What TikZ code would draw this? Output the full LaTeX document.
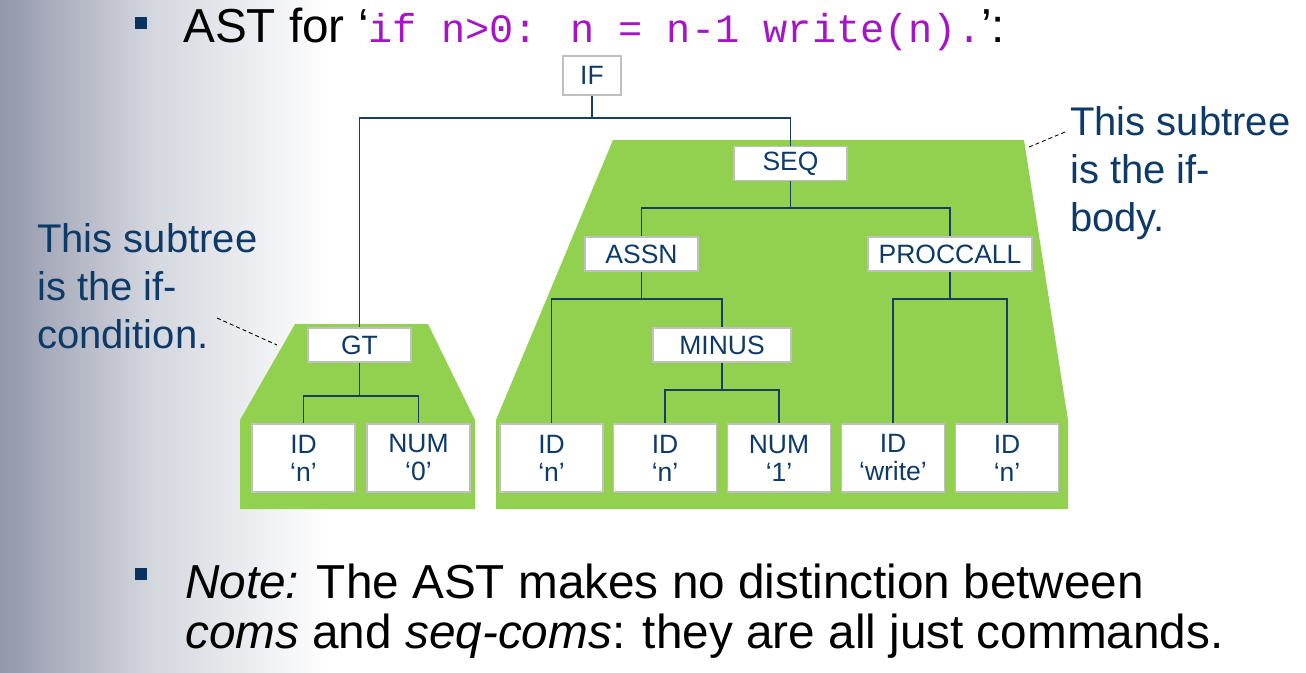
\documentclass[tikz,border=0pt]{standalone}
\usepackage{fontspec}
\setmainfont{Liberation Sans}
\newfontfamily\codefont{Liberation Mono}
\definecolor{bgL}{RGB}{146,151,170}
\definecolor{bgM}{RGB}{212,214,222}
\definecolor{navy}{RGB}{14,58,104}
\definecolor{linec}{RGB}{24,62,100}
\definecolor{bulletc}{RGB}{10,50,95}
\definecolor{leaf}{RGB}{146,208,80}
\definecolor{boxline}{RGB}{192,192,192}
\definecolor{codepurple}{RGB}{165,20,200}
\begin{document}
\begin{tikzpicture}[x=1pt,y=-1pt,
  treebox/.style={draw=boxline, line width=1.5pt, fill=white, text=navy, inner sep=0pt,
    font=\fontsize{26.5}{28}\selectfont, minimum height=34pt, align=center},
  leafbox/.style={treebox, minimum width=103pt, minimum height=68pt},
  conn/.style={draw=linec, line width=1.4pt},
  lead/.style={draw=black, line width=0.9pt, dash pattern=on 4pt off 3pt},
  callout/.style={text=navy, inner sep=0pt, anchor=north west, align=left,
    font=\fontsize{40}{48}\selectfont},
  bigtext/.style={inner sep=0pt, anchor=base west, font=\fontsize{47.7}{50}\selectfont}]
\useasboundingbox (0,0) rectangle (1306,672);
\shade[left color=bgL, right color=bgM] (0,0) rectangle (150,672);
\shade[left color=bgM, right color=white] (149.5,0) rectangle (330,672);

% green regions
\fill[leaf] (295,324) -- (428,324) -- (475,420) -- (475,509) -- (240,509) -- (240,420) -- cycle;
\fill[leaf] (613,140) -- (1024,140) -- (1068,420) -- (1068,509) -- (496,509) -- (496,420) -- cycle;

% title
\fill[bulletc] (135,17) rectangle (147,29);
\node[bigtext] (title) at (183,42) {AST for ‘{\codefont\color{codepurple}\fontsize{40.3}{40}\selectfont if n>0: n = n-1 write(n).}’:};

% note
\fill[bulletc] (135,568) rectangle (147,580);
\node[bigtext] (note1) at (185,598) {\textit{Note:} The AST makes no distinction between};
\node[bigtext] (note2) at (185,648) {\textit{coms} and \textit{seq-coms}: they are all just commands.};

% callouts
\node[callout] (cl) at (37,223) {This subtree\\is the if-\\condition.};
\node[callout] (cr) at (1070,106) {This subtree\\is the if-\\body.};
\coordinate (cla) at (217,318);
\coordinate (clb) at (277,345);
\coordinate (cra) at (1065,132);
\coordinate (crb) at (1029,147);
\draw[lead] (cla) -- (clb);
\draw[lead] (cra) -- (crb);

% junctions
\coordinate (j0) at (592,118);
\coordinate (jg) at (359.5,396);
\coordinate (j1) at (790.5,208);
\coordinate (j2) at (641.5,299);
\coordinate (j3) at (722,390);
\coordinate (j4) at (950,299);

% nodes
\node[treebox, minimum width=58pt, minimum height=39pt] (if) at (592,75.5) {IF};
\node[treebox, minimum width=103pt] (gt) at (359.5,345) {GT};
\node[treebox, minimum width=113pt] (seq) at (790.5,163.5) {SEQ};
\node[treebox, minimum width=113pt] (assn) at (641.5,254) {ASSN};
\node[treebox, minimum width=164pt] (proc) at (950,254) {PROCCALL};
\node[treebox, minimum width=138pt] (minus) at (722,345) {MINUS};
\node[leafbox] (la) at (303.5,458) {ID\\‘n’};
\node[leafbox] (lb) at (418.5,458) {NUM\\‘0’};
\node[leafbox] (l1) at (551.5,458) {ID\\‘n’};
\node[leafbox] (l2) at (665,458) {ID\\‘n’};
\node[leafbox] (l3) at (779,458) {NUM\\‘1’};
\node[leafbox] (l4) at (893,458) {ID\\‘write’};
\node[leafbox] (l5) at (1007,458) {ID\\‘n’};

% connectors
\draw[conn] (if.south) -- (j0);
\draw[conn] (gt.north) |- (j0) -| (seq.north);
\draw[conn] (gt.south) -- (jg);
\draw[conn] (la.north) |- (jg) -| (lb.north);
\draw[conn] (seq.south) -- (j1);
\draw[conn] (assn.north) |- (j1) -| (proc.north);
\draw[conn] (assn.south) -- (j2);
\draw[conn] (l1.north) |- (j2) -| (minus.north);
\draw[conn] (minus.south) -- (j3);
\draw[conn] (l2.north) |- (j3) -| (l3.north);
\draw[conn] (proc.south) -- (j4);
\draw[conn] (l4.north) |- (j4) -| (l5.north);
\end{tikzpicture}
\end{document}
